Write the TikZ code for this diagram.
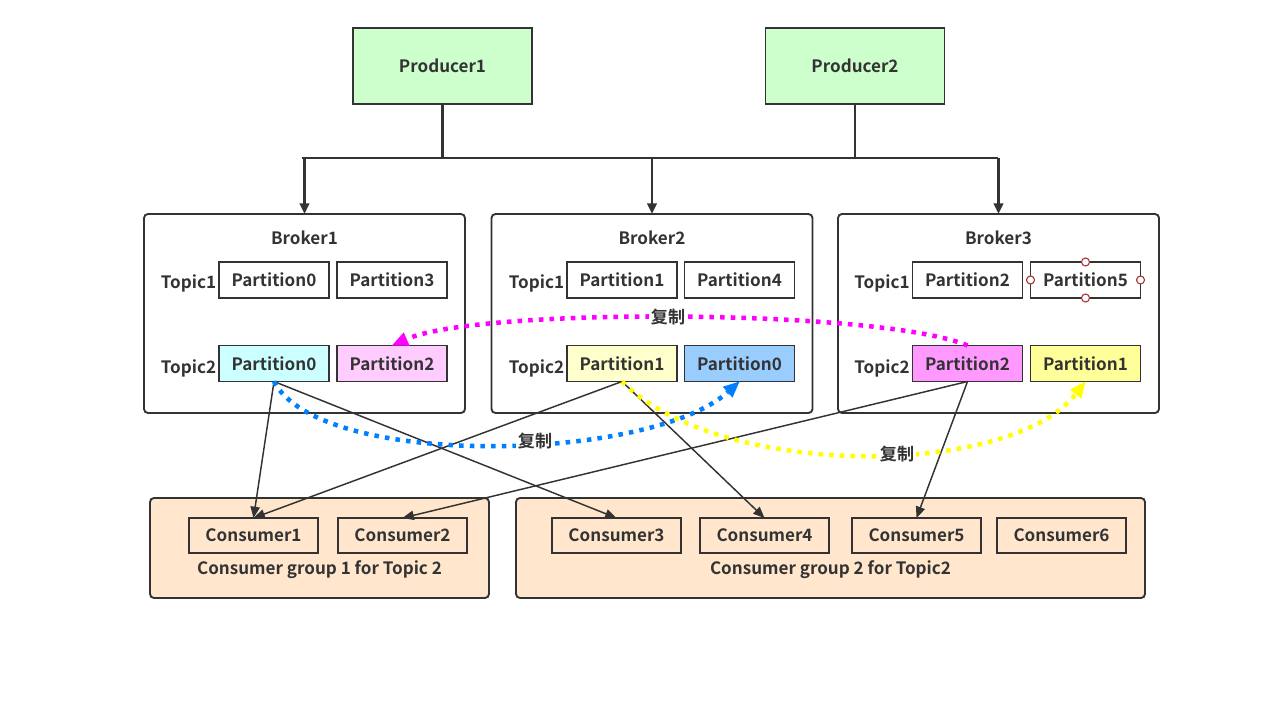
\documentclass[tikz,border=0pt]{standalone}
\usepackage{fontspec}
\setmainfont{Noto Sans CJK SC}[BoldFont={Noto Sans CJK SC Bold}]
\usetikzlibrary{arrows.meta}
\definecolor{ink}{HTML}{333333}
\definecolor{prodfill}{HTML}{CCFFCC}
\definecolor{grpfill}{HTML}{FFE6CC}
\definecolor{cyanfill}{HTML}{CCFFFF}
\definecolor{pinkfill}{HTML}{FFCCFF}
\definecolor{lyellow}{HTML}{FFFFCC}
\definecolor{blue1}{HTML}{99CCFF}
\definecolor{magfill}{HTML}{FF99FF}
\definecolor{yellow2}{HTML}{FFFF99}
\definecolor{repmag}{HTML}{FF00FF}
\definecolor{repblue}{HTML}{007FFF}
\definecolor{repyel}{HTML}{FFFF00}
\definecolor{handle}{HTML}{A33333}
\tikzset{
  txt/.style={font=\bfseries\fontsize{12.8}{15}\selectfont, text=ink},
  box/.style={txt, draw=ink, line width=1.4pt, inner sep=0pt, outer sep=0pt},
  producer/.style={box, fill=prodfill, minimum width=134.25pt, minimum height=57pt},
  broker/.style={box, rounded corners=3pt, fill=white, minimum width=240.75pt, minimum height=149.25pt},
  part/.style={box, fill=white, minimum width=82.5pt, minimum height=27pt},
  consumer/.style={box, fill=grpfill, minimum width=96.75pt, minimum height=26.25pt},
  group/.style={box, rounded corners=3pt, fill=grpfill, minimum width=#1, minimum height=75pt},
  topic/.style={txt, anchor=base east, inner sep=0pt},
  bus/.style={draw=ink, line width=2pt},
  busarrow/.style={bus, -{Triangle[length=8pt, width=7pt]}},
  feed/.style={draw=ink, line width=1.1pt, -{Triangle[length=8.5pt, width=7pt]}},
  rep/.style={line width=3.4pt, dash pattern=on 3.4pt off 4.6pt,
              -{Triangle[length=12pt, width=11pt, line width=0pt]}},
  replabel/.style={txt, fill=white, inner sep=1.5pt},
  grip/.style={circle, draw=handle, fill=white, line width=0.8pt, minimum size=6pt, inner sep=0pt},
}
\begin{document}
\begin{tikzpicture}[x=0.75pt, y=-0.75pt]
\useasboundingbox (0,0) rectangle (1267,721);

% producers
\node[producer] (p1) at (442.5,66) {Producer1};
\node[producer] (p2) at (855,66) {Producer2};

% brokers
\node[broker] (b1) at (304.5,313.5) {};
\node[broker] (b2) at (652,313.5) {};
\node[broker] (b3) at (998.5,313.5) {};
\foreach \b/\n in {b1/1, b2/2, b3/3}
  \node[txt] (\b lbl) at ([yshift=-18pt]\b.north) {Broker\n};

% Broker1 partitions
\node[part] (b1t1a) at (274,280) {Partition0};
\node[part] (b1t1b) at (392,280) {Partition3};
\node[part, fill=cyanfill] (b1t2a) at (274,363.5) {Partition0};
\node[part, fill=pinkfill] (b1t2b) at (392,363.5) {Partition2};
% Broker2 partitions
\node[part] (b2t1a) at (622,280) {Partition1};
\node[part] (b2t1b) at (739.5,280) {Partition4};
\node[part, fill=lyellow] (b2t2a) at (622,363.5) {Partition1};
\node[part, fill=blue1] (b2t2b) at (739.5,363.5) {Partition0};
% Broker3 partitions
\node[part] (b3t1a) at (967.5,280) {Partition2};
\node[part] (b3t1b) at (1085.5,280) {Partition5};
\node[part, fill=magfill] (b3t2a) at (967.5,363.5) {Partition2};
\node[part, fill=yellow2] (b3t2b) at (1085.5,363.5) {Partition1};

% topic labels
\foreach \b in {b1, b2, b3} {
  \node[topic] (\b topic1) at ([xshift=-2pt, yshift=-1.5pt]\b t1a.base west) {Topic1};
  \node[topic] (\b topic2) at ([xshift=-2pt, yshift=-2.5pt]\b t2a.base west) {Topic2};
}

% selection grips on Partition5
\foreach \a in {north, south, east, west}
  \node[grip] (grip\a) at (b3t1b.\a) {};

% consumer groups
\node[group=254.25pt] (g1) at (319.5,548) {};
\node[group=471.75pt] (g2) at (830.5,548) {};
\node[consumer] (c1) at (253.5,535.5) {Consumer1};
\node[consumer] (c2) at (402.5,535.5) {Consumer2};
\node[consumer] (c3) at (616.5,535.5) {Consumer3};
\node[consumer] (c4) at (764.5,535.5) {Consumer4};
\node[consumer] (c5) at (916.5,535.5) {Consumer5};
\node[consumer] (c6) at (1061.5,535.5) {Consumer6};
\node[txt] (g1lbl) at (319.5,570) {Consumer group 1 for Topic 2};
\node[txt] (g2lbl) at (830.5,570) {Consumer group 2 for Topic2};

% producer bus
\coordinate (busL) at (302,158);
\coordinate (busR) at (998,158);
\draw[bus] (busL) -- (busR);
\draw[bus] (p1.south) -- (p1.south |- busL);
\draw[bus] (p2.south) -- (p2.south |- busL);
\foreach \b in {b1, b2, b3}
  \draw[busarrow] (\b.north |- busL) -- (\b.north);

% consumers reading Topic2 partitions
\draw[feed] (b1t2a.south) -- (c1.north);
\draw[feed] (b1t2a.south) -- (c3.north);
\draw[feed] (b2t2a.south) -- (c1.north);
\draw[feed] (b2t2a.south) -- (c4.north);
\draw[feed] (b3t2a.south) -- (c2.north);
\draw[feed] (b3t2a.south) -- (c5.north);

% replication
\draw[rep, draw=repmag] (b3t2a.north) .. controls (880,309) and (480,307) .. (b1t2b.north);
\node[replabel] (r1) at (668,317) {复制};
\draw[rep, draw=repblue] (b1t2a.south) .. controls (320,470) and (650,462) .. (b2t2b.south);
\node[replabel] (r2) at (535,441) {复制};
\draw[rep, draw=repyel] (b2t2a.south) .. controls (720,480) and (1010,478) .. (b3t2b.south);
\node[replabel] (r3) at (897,454) {复制};
\end{tikzpicture}
\end{document}
